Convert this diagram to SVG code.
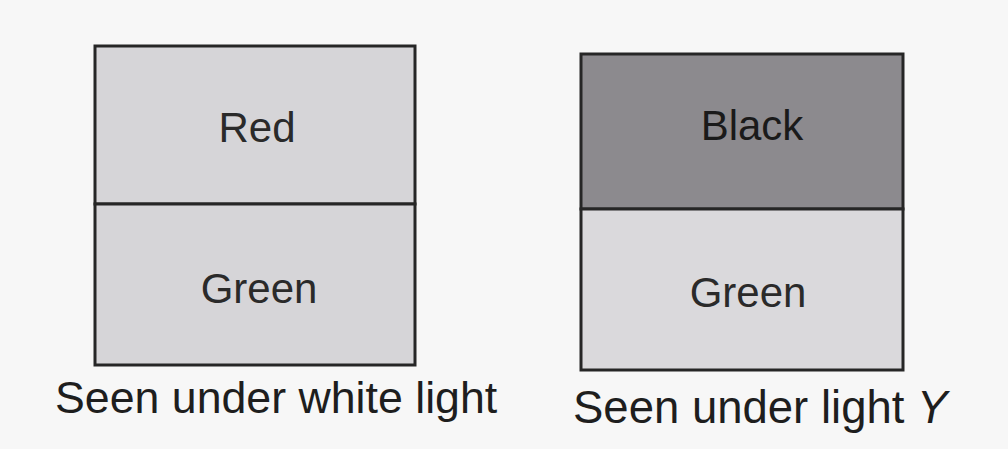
<svg xmlns="http://www.w3.org/2000/svg" width="1008" height="449" viewBox="0 0 1008 449">
  <style>
    .box { stroke: #262626; stroke-width: 3; }
    .light { fill: #d6d5d8; }
    .dark { fill: #8c8a8e; }
    .lbl { font-family: "Liberation Sans", Arial, sans-serif; font-size: 42px; fill: #2a2a2a; text-anchor: middle; }
    .cap { font-family: "Liberation Sans", Arial, sans-serif; font-size: 44.7px; fill: #1e1e1e; }
  </style>
  <rect width="1008" height="449" fill="#f7f7f7"/>
  <g id="white-light-panel">
    <g id="left-red">
      <rect class="box light" x="95" y="46" width="320" height="158"/>
      <text class="lbl" x="257" y="142">Red</text>
    </g>
    <g id="left-green">
      <rect class="box light" x="95" y="204" width="320" height="161"/>
      <text class="lbl" x="259" y="303">Green</text>
    </g>
    <text class="cap" x="55" y="413">Seen under white light</text>
  </g>
  <g id="light-y-panel">
    <g id="right-black">
      <rect class="box dark" x="581" y="54" width="322" height="155"/>
      <text class="lbl" x="752" y="140" style="fill:#1a1a1a">Black</text>
    </g>
    <g id="right-green">
      <rect class="box light" x="581" y="209" width="322" height="161" style="fill:#dad9dc"/>
      <text class="lbl" x="748" y="307">Green</text>
    </g>
    <text class="cap" x="573" y="423" style="font-size:45.5px">Seen under light <tspan font-style="italic">Y</tspan></text>
  </g>
  <g id="connectors"/>
</svg>
